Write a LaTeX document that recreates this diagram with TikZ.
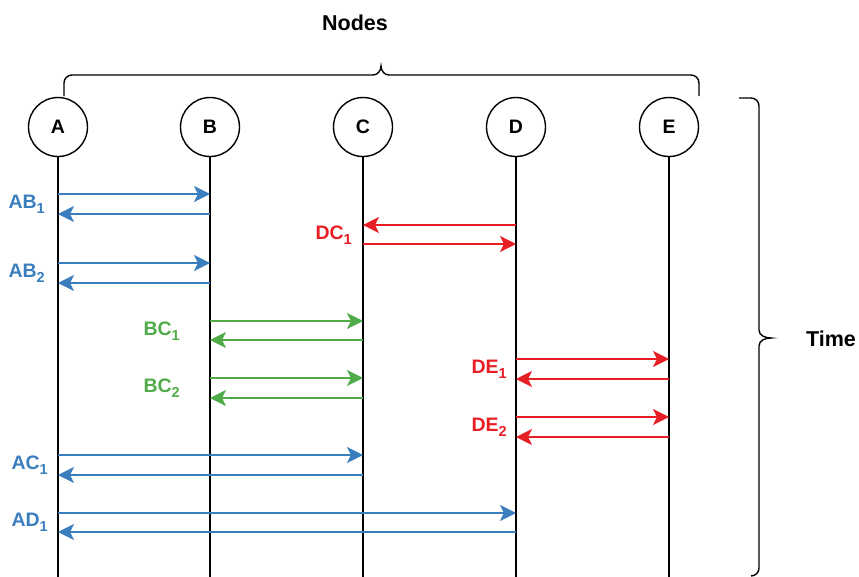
\documentclass[tikz,border=0pt]{standalone}
\usepackage{fontspec}
\setmainfont{Liberation Sans}
\usetikzlibrary{arrows.meta}

\definecolor{abblue}{RGB}{58,126,190}
\definecolor{dcred}{RGB}{232,30,37}
\definecolor{bcgreen}{RGB}{80,172,72}

\newcommand{\lsub}[1]{\raisebox{-5pt}{\fontsize{14.5}{14.5}\selectfont #1}}

\begin{document}
\begin{tikzpicture}[x=1pt,y=-1pt,
    peer/.style={draw,circle,line width=1.4pt,minimum size=59pt,inner sep=0pt,
        font=\fontsize{19.5}{22}\selectfont\bfseries},
    life/.style={line width=1.4pt},
    msg/.style={line width=1.5pt,-{Stealth[length=16pt,width=16pt,inset=4pt]}},
    lbl/.style={anchor=east,inner sep=0pt,font=\fontsize{19.5}{22}\selectfont\bfseries},
    brc/.style={line width=1.4pt},
    ttl/.style={font=\fontsize{21.5}{24}\selectfont\bfseries}]
        \useasboundingbox (0,0) rectangle (859,576);
        % the five nodes
        \node[peer] (A) at (58,127) {A};
        \node[peer] (B) at (210,127) {B};
        \node[peer] (C) at (363,127) {C};
        \node[peer] (D) at (516,127) {D};
        \node[peer] (E) at (669,127) {E};
        \foreach \n in {A,B,C,D,E}
            \draw[life] (\n.south) -- (\n |- 0,580);
        % braces and titles
        \draw[brc] (64,96) -- (64,83) to[out=90,in=180] (72,75) -- (373,75)
            to[out=0,in=-90] (381,66) to[out=-90,in=180] (389,75) -- (691,75)
            to[out=0,in=90] (699,83) -- (699,96);
        \node[ttl] (nodes) at (355,23) {Nodes};
        \draw[brc] (739,98) -- (751,98) to[out=0,in=90] (759,106) -- (759,330)
            to[out=-90,in=180] (771,338) to[out=180,in=90] (759,346) -- (759,568)
            to[out=-90,in=0] (751,576);
        \node[ttl] (time) at (831,339) {Time};
        % A <-> B
        \draw[msg,abblue] (A |- 0,194) -- (B |- 0,194);
        \draw[msg,abblue] (B |- 0,214) -- (A |- 0,214);
        \node[lbl,abblue,xshift=-13pt] (ab1) at (A |- 0,204) {AB\lsub{1}};
        \draw[msg,abblue] (A |- 0,263) -- (B |- 0,263);
        \draw[msg,abblue] (B |- 0,283) -- (A |- 0,283);
        \node[lbl,abblue,xshift=-13pt] (ab2) at (A |- 0,273) {AB\lsub{2}};
        % D <-> C
        \draw[msg,dcred] (D |- 0,225) -- (C |- 0,225);
        \draw[msg,dcred] (C |- 0,244) -- (D |- 0,244);
        \node[lbl,dcred,xshift=-11pt] (dc1) at (C |- 0,235) {DC\lsub{1}};
        % B <-> C
        \draw[msg,bcgreen] (B |- 0,321) -- (C |- 0,321);
        \draw[msg,bcgreen] (C |- 0,340) -- (B |- 0,340);
        \node[lbl,bcgreen,xshift=-30pt] (bc1) at (B |- 0,331) {BC\lsub{1}};
        \draw[msg,bcgreen] (B |- 0,378) -- (C |- 0,378);
        \draw[msg,bcgreen] (C |- 0,398) -- (B |- 0,398);
        \node[lbl,bcgreen,xshift=-30pt] (bc2) at (B |- 0,388) {BC\lsub{2}};
        % D <-> E
        \draw[msg,dcred] (D |- 0,359) -- (E |- 0,359);
        \draw[msg,dcred] (E |- 0,379) -- (D |- 0,379);
        \node[lbl,dcred,xshift=-9pt] (de1) at (D |- 0,369) {DE\lsub{1}};
        \draw[msg,dcred] (D |- 0,417) -- (E |- 0,417);
        \draw[msg,dcred] (E |- 0,437) -- (D |- 0,437);
        \node[lbl,dcred,xshift=-9pt] (de2) at (D |- 0,427) {DE\lsub{2}};
        % A <-> C, A <-> D
        \draw[msg,abblue] (A |- 0,455) -- (C |- 0,455);
        \draw[msg,abblue] (C |- 0,475) -- (A |- 0,475);
        \node[lbl,abblue,xshift=-10pt] (ac1) at (A |- 0,465) {AC\lsub{1}};
        \draw[msg,abblue] (A |- 0,513) -- (D |- 0,513);
        \draw[msg,abblue] (D |- 0,532) -- (A |- 0,532);
        \node[lbl,abblue,xshift=-10pt] (ad1) at (A |- 0,522) {AD\lsub{1}};
    \end{tikzpicture}
\end{document}
